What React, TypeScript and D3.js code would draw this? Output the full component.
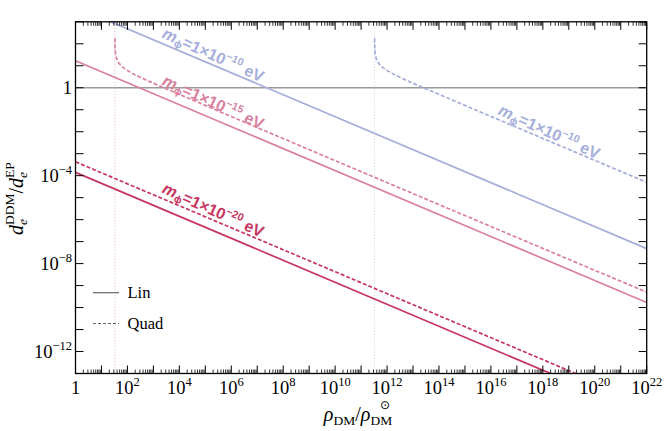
import React from 'react';
import * as d3 from 'd3';

const W = 664;
const H = 431;
const PL = 75.5;
const PR = 646.7;
const PT = 21.8;
const PB = 373.5;

// axis domain and tick labels
const xDomain = [1, 1e22];
const yDomain = [1e-13, 1e3];
const xLabelExps = [0, 2, 4, 6, 8, 10, 12, 14, 16, 18, 20, 22];
const yLabelExps = [-12, -8, -4, 0];

// m_phi = 1e-20 eV
const linRho20 = [1, 1e22];
const linVal20 = [1.41e-4, 1.41e-15];
const quadRho20 = [1, 1e22];
const quadVal20 = [4.27e-4, 4.27e-15];

// m_phi = 1e-15 eV
const linRho15 = [1, 1e22];
const linVal15 = [17.0, 1.7e-10];
const quadRho15 = [33.08, 33.2, 33.5, 34, 35, 38, 43, 53, 83, 133, 333, 1033, 1e4, 1e22];
const quadVal15 = [177, 112, 70.9, 50.1, 35.4, 22.4, 15.8, 11.2, 7.09, 5.01, 2.89, 1.58, 0.502, 5.0e-10];

// m_phi = 1e-10 eV
const linRho10 = [1, 1e22];
const linVal10 = [4786, 4.79e-8];
const quadRho10 = [3.308e11, 3.32e11, 3.35e11, 3.4e11, 3.5e11, 3.8e11, 4.3e11, 5.3e11, 8.3e11, 1.33e12, 3.33e12, 1.033e13, 1e14, 1e22];
const quadVal10 = [177, 112, 70.9, 50.1, 35.4, 22.4, 15.8, 11.2, 7.09, 5.01, 2.89, 1.58, 0.502, 5.0e-5];

// threshold densities (dotted verticals)
const thresholdRho = [33, 3.3e11];

// mass labels
const labelExps = ['−10', '−15', '−20', '−10'];
const labelRho = [Math.pow(10, 3.3), Math.pow(10, 3.3), Math.pow(10, 3.3), Math.pow(10, 16.24)];
const labelVal = [Math.pow(10, 2.3), Math.pow(10, 0.15), Math.pow(10, -4.76), Math.pow(10, -1.2)];

const BLUE = '#a6aedb';
const PINK = '#d9819f';
const RED = '#c6365f';
const labelColors = [BLUE, PINK, RED, BLUE];
const thresholdColors = ['#e2a9bc', '#c3c9ea'];

const SERIF = '"Liberation Serif", "Times New Roman", serif';
const SANS = '"Liberation Sans", Arial, sans-serif';

export default function App() {
  const x = d3.scaleLog().domain(xDomain).range([PL, PR]);
  const y = d3.scaleLog().domain(yDomain).range([PB, PT]);

  const mk = (rho: number[], val: number[]) =>
    d3
      .line<number>()
      .x((i) => x(rho[i]))
      .y((i) => y(val[i]))
      .curve(d3.curveMonotoneX)(rho.map((_, i) => i)) || '';

  const series = [
    { d: mk(linRho10, linVal10), c: BLUE, dash: undefined as string | undefined },
    { d: mk(quadRho10, quadVal10), c: BLUE, dash: '4,2' },
    { d: mk(linRho15, linVal15), c: PINK, dash: undefined },
    { d: mk(quadRho15, quadVal15), c: PINK, dash: '4,2' },
    { d: mk(linRho20, linVal20), c: RED, dash: undefined },
    { d: mk(quadRho20, quadVal20), c: RED, dash: '4,2' },
  ];

  const xMajor: number[] = [];
  const xMinor: number[] = [];
  for (let e = 0; e <= 22; e++) {
    xMajor.push(Math.pow(10, e));
    if (e < 22) for (let k = 2; k <= 9; k++) xMinor.push(k * Math.pow(10, e));
  }
  const yMajor: number[] = [];
  for (let e = -13; e <= 3; e++) yMajor.push(Math.pow(10, e));

  const angle = (Math.atan((0.5 * (PB - PT) / 16) / ((PR - PL) / 22)) * 180) / Math.PI + 1.5;

  return (
    <svg
      width={W}
      height={H}
      viewBox={`0 0 ${W} ${H}`}
      style={{ position: 'absolute', left: 0, top: 0, background: '#fff' }}
    >
      <defs>
        <clipPath id="plotclip">
          <rect x={PL} y={PT} width={PR - PL} height={PB - PT} />
        </clipPath>
      </defs>

      {/* threshold dotted lines */}
      {thresholdRho.map((r, i) => (
        <line
          key={'th' + i}
          x1={x(r)}
          x2={x(r)}
          y1={PT}
          y2={PB}
          stroke={thresholdColors[i]}
          strokeWidth={0.9}
          strokeDasharray="1,2"
        />
      ))}

      {/* y = 1 reference */}
      <line x1={PL} x2={PR} y1={y(1)} y2={y(1)} stroke="#9a9a9a" strokeWidth={1.5} />

      <g clipPath="url(#plotclip)">
        {series.map((s, i) => (
          <path
            key={'s' + i}
            d={s.d}
            fill="none"
            stroke={s.c}
            strokeWidth={1.7}
            strokeDasharray={s.dash}
          />
        ))}
      </g>

      {/* mass labels */}
      {labelRho.map((r, i) => (
        <text
          key={'lab' + i}
          transform={`translate(${x(r)},${y(labelVal[i])}) rotate(${angle})`}
          fill={labelColors[i]}
          fontFamily={SANS}
          fontWeight="bold"
          fontSize={16}
        >
          <tspan fontStyle="italic">m</tspan>
          <tspan fontSize={10.5} dy={3}>
            ϕ
          </tspan>
          <tspan dy={-3}>=1×10</tspan>
          <tspan fontSize={10.5} dy={-7}>
            {labelExps[i]}
          </tspan>
          <tspan dy={7}> eV</tspan>
        </text>
      ))}

      {/* frame */}
      <rect x={PL} y={PT} width={PR - PL} height={PB - PT} fill="none" stroke="#000" strokeWidth={1.3} />

      {/* x ticks */}
      {xMajor.map((v, i) => (
        <g key={'xM' + i}>
          <line x1={x(v)} x2={x(v)} y1={PB} y2={PB - 8} stroke="#000" strokeWidth={1} />
          <line x1={x(v)} x2={x(v)} y1={PT} y2={PT + 8} stroke="#000" strokeWidth={1} />
        </g>
      ))}
      {xMinor.map((v, i) => (
        <g key={'xm' + i}>
          <line x1={x(v)} x2={x(v)} y1={PB} y2={PB - 4} stroke="#000" strokeWidth={0.8} />
          <line x1={x(v)} x2={x(v)} y1={PT} y2={PT + 4} stroke="#000" strokeWidth={0.8} />
        </g>
      ))}
      {/* y ticks */}
      {yMajor.map((v, i) => (
        <g key={'yM' + i}>
          <line x1={PL} x2={PL + 8} y1={y(v)} y2={y(v)} stroke="#000" strokeWidth={1} />
          <line x1={PR} x2={PR - 8} y1={y(v)} y2={y(v)} stroke="#000" strokeWidth={1} />
        </g>
      ))}

      {/* x tick labels */}
      {xLabelExps.map((e) => (
        <text
          key={'xl' + e}
          x={x(Math.pow(10, e))}
          y={394}
          textAnchor="middle"
          fontFamily={SERIF}
          fontSize={18.5}
          fill="#000"
        >
          {e === 0 ? (
            '1'
          ) : (
            <>
              <tspan>10</tspan>
              <tspan fontSize={12.5} dy={-8}>
                {String(e)}
              </tspan>
            </>
          )}
        </text>
      ))}

      {/* y tick labels */}
      {yLabelExps.map((e) => (
        <text
          key={'yl' + e}
          x={72}
          y={y(Math.pow(10, e)) + 6.5}
          textAnchor="end"
          fontFamily={SERIF}
          fontSize={18.5}
          fill="#000"
        >
          {e === 0 ? (
            '1'
          ) : (
            <>
              <tspan>10</tspan>
              <tspan fontSize={12.5} dy={-8}>
                {'−' + String(-e)}
              </tspan>
            </>
          )}
        </text>
      ))}

      {/* legend */}
      <line x1={93} x2={119} y1={292.7} y2={292.7} stroke="#666" strokeWidth={1.2} />
      <text x={127.5} y={298} fontFamily={SERIF} fontSize={16.5} fill="#000">
        Lin
      </text>
      <line x1={93} x2={119} y1={323.5} y2={323.5} stroke="#666" strokeWidth={1.2} strokeDasharray="3,2" />
      <text x={127.5} y={329} fontFamily={SERIF} fontSize={16.5} fill="#000">
        Quad
      </text>

      {/* x axis title */}
      <text x={358} y={421} textAnchor="middle" fontFamily={SERIF} fontSize={20} fill="#000">
        <tspan fontStyle="italic">ρ</tspan>
        <tspan fontSize={13.5} dy={4}>
          DM
        </tspan>
        <tspan dy={-4}>/</tspan>
        <tspan fontStyle="italic">ρ</tspan>
        <tspan fontSize={13.5} dy={4}>
          DM
        </tspan>
      </text>
      <text x={380} y={409} fontFamily={'"DejaVu Sans", sans-serif'} fontSize={12} fill="#000">
        ⊙
      </text>

      {/* y axis title */}
      <text
        transform={`translate(23,${(PT + PB) / 2 + 1}) rotate(-90)`}
        textAnchor="middle"
        fontFamily={SERIF}
        fontSize={20}
        fill="#000"
      >
        <tspan fontStyle="italic">d</tspan>
        <tspan fontStyle="italic" fontSize={13.5} dy={4}>
          e
        </tspan>
        <tspan fontSize={13.5} dx={-6} dy={-13}>
          DDM
        </tspan>
        <tspan dy={9}>/</tspan>
        <tspan fontStyle="italic">d</tspan>
        <tspan fontStyle="italic" fontSize={13.5} dy={4}>
          e
        </tspan>
        <tspan fontSize={13.5} dx={-6} dy={-13}>
          EP
        </tspan>
      </text>
    </svg>
  );
}
